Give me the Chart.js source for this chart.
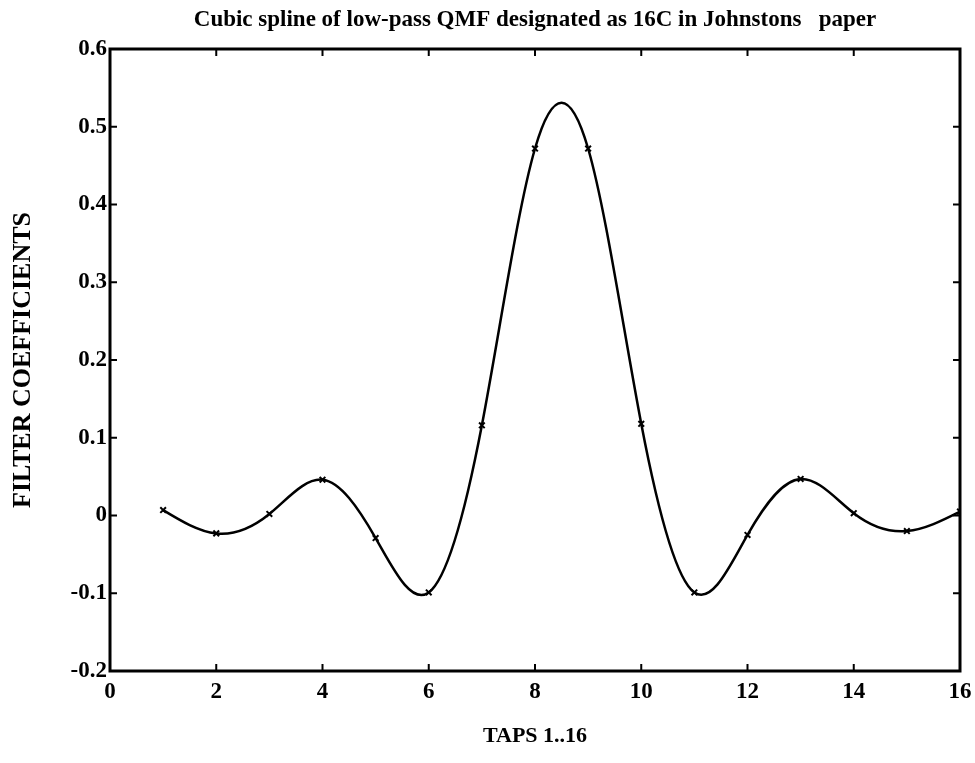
<!DOCTYPE html>
<html>
<head>
<meta charset="utf-8">
<title>Cubic spline of low-pass QMF</title>
<script src="https://cdn.jsdelivr.net/npm/chart.js@4/dist/chart.umd.min.js"></script>
<style>
  html, body { margin: 0; padding: 0; background: #fff; }
  canvas { display: block; }
</style>
</head>
<body>
<canvas id="splineChart" width="975" height="763"></canvas>
<script>
// Filter taps and their coefficients
const taps = [1, 2, 3, 4, 5, 6, 7, 8, 9, 10, 11, 12, 13, 14, 15, 16];
const coeffs = [0.007, -0.023, 0.002, 0.046, -0.029, -0.099, 0.116, 0.472,
                0.472, 0.118, -0.099, -0.025, 0.047, 0.003, -0.020, 0.005];
const xTickValues = [0, 2, 4, 6, 8, 10, 12, 14, 16];
const yTickValues = [-0.2, -0.1, 0, 0.1, 0.2, 0.3, 0.4, 0.5, 0.6];

const serif = "'Liberation Serif', 'Times New Roman', serif";

// Slopes of a natural cubic spline through the points
function splineSlopes(xs, ys) {
    const n = xs.length;
    const h = [], d = [];
    for (let i = 0; i < n - 1; i++) {
        h.push(xs[i + 1] - xs[i]);
        d.push((ys[i + 1] - ys[i]) / h[i]);
    }
    const a = new Array(n).fill(0), b = new Array(n).fill(1),
          c = new Array(n).fill(0), r = new Array(n).fill(0);
    for (let i = 1; i < n - 1; i++) {
        a[i] = h[i - 1];
        b[i] = 2 * (h[i - 1] + h[i]);
        c[i] = h[i];
        r[i] = 6 * (d[i] - d[i - 1]);
    }
    for (let i = 1; i < n; i++) {
        const w = a[i] / b[i - 1];
        b[i] -= w * c[i - 1];
        r[i] -= w * r[i - 1];
    }
    const M = new Array(n);
    M[n - 1] = r[n - 1] / b[n - 1];
    for (let i = n - 2; i >= 0; i--) M[i] = (r[i] - c[i] * M[i + 1]) / b[i];
    const m = [];
    for (let i = 0; i < n - 1; i++) m.push(d[i] - h[i] * (2 * M[i] + M[i + 1]) / 6);
    m.push(d[n - 2] + h[n - 2] * (M[n - 2] + 2 * M[n - 1]) / 6);
    return m;
}

// Replace chart.js bezier control points with the cubic spline ones
const splinePlugin = {
    id: 'spline',
    beforeDatasetsDraw(chart) {
        const meta = chart.getDatasetMeta(0);
        const line = meta.dataset;
        line.updateControlPoints(chart.chartArea, 'x');
        const pts = meta.data;
        const sx = chart.scales.x, sy = chart.scales.y;
        const slopes = splineSlopes(taps, coeffs);
        for (let i = 0; i < pts.length - 1; i++) {
            const h3 = (taps[i + 1] - taps[i]) / 3;
            pts[i].cp2x = sx.getPixelForValue(taps[i] + h3);
            pts[i].cp2y = sy.getPixelForValue(coeffs[i] + slopes[i] * h3);
            pts[i + 1].cp1x = sx.getPixelForValue(taps[i + 1] - h3);
            pts[i + 1].cp1y = sy.getPixelForValue(coeffs[i + 1] - slopes[i + 1] * h3);
        }
        line._path = undefined;
    }
};

// Box round the plot with inward tick marks on all four sides
const boxPlugin = {
    id: 'box',
    afterDatasetsDraw(chart) {
        const {ctx, chartArea: area} = chart;
        const sx = chart.scales.x, sy = chart.scales.y;
        const len = 7;
        ctx.save();
        ctx.strokeStyle = '#000';
        ctx.lineWidth = 2;
        ctx.beginPath();
        xTickValues.forEach(v => {
            const px = sx.getPixelForValue(v);
            ctx.moveTo(px, area.bottom);
            ctx.lineTo(px, area.bottom - len);
            ctx.moveTo(px, area.top);
            ctx.lineTo(px, area.top + len);
        });
        yTickValues.forEach(v => {
            const py = sy.getPixelForValue(v);
            ctx.moveTo(area.left, py);
            ctx.lineTo(area.left + len, py);
            ctx.moveTo(area.right, py);
            ctx.lineTo(area.right - len, py);
        });
        ctx.stroke();
        ctx.lineWidth = 3;
        ctx.strokeRect(area.left, area.top, area.right - area.left, area.bottom - area.top);
        ctx.restore();
    }
};

const ctx = document.getElementById('splineChart').getContext('2d');
new Chart(ctx, {
    type: 'line',
    data: {
        datasets: [{
            data: taps.map((t, i) => ({x: t, y: coeffs[i]})),
            borderColor: '#000',
            borderWidth: 2.5,
            tension: 0.4,
            pointStyle: 'crossRot',
            pointRadius: 4,
            pointBorderWidth: 2,
            pointBorderColor: '#000',
            pointBackgroundColor: '#000',
            fill: false
        }]
    },
    options: {
        responsive: false,
        animation: false,
        layout: {
            padding: {left: 0, right: 15, top: 0, bottom: 0}
        },
        plugins: {
            legend: {
                display: false
            },
            tooltip: {
                enabled: false
            },
            title: {
                display: true,
                text: 'Cubic spline of low-pass QMF designated as 16C in Johnstons   paper',
                color: '#000',
                fullSize: false,
                font: {family: serif, size: 23, weight: 'bold'},
                padding: {top: 6, bottom: 15.4}
            }
        },
        scales: {
            x: {
                type: 'linear',
                min: 0,
                max: 16,
                afterBuildTicks: scale => {
                    scale.ticks = xTickValues.map(v => ({value: v}));
                },
                afterFit: scale => {
                    scale.height = 92;
                    scale.paddingLeft = 0;
                    scale.paddingRight = 0;
                },
                grid: {display: false, drawTicks: false},
                border: {display: false},
                ticks: {
                    color: '#000',
                    padding: 7,
                    maxRotation: 0,
                    font: {family: serif, size: 23, weight: 'bold'},
                    callback: v => String(v)
                },
                title: {
                    display: true,
                    text: 'TAPS 1..16',
                    color: '#000',
                    font: {family: serif, size: 22, weight: 'bold'},
                    padding: {top: 0, bottom: 13}
                }
            },
            y: {
                type: 'linear',
                min: -0.2,
                max: 0.6,
                afterBuildTicks: scale => {
                    scale.ticks = yTickValues.map(v => ({value: v}));
                },
                afterFit: scale => {
                    scale.width = 110;
                },
                grid: {display: false, drawTicks: false},
                border: {display: false},
                ticks: {
                    color: '#000',
                    padding: 3,
                    font: {family: serif, size: 23, weight: 'bold'},
                    callback: v => String(v)
                },
                title: {
                    display: true,
                    text: 'FILTER COEFFICIENTS',
                    color: '#000',
                    font: {family: serif, size: 26, weight: 'bold'},
                    padding: {top: 8, bottom: 0}
                }
            }
        }
    },
    plugins: [splinePlugin, boxPlugin]
});
</script>
</body>
</html>
